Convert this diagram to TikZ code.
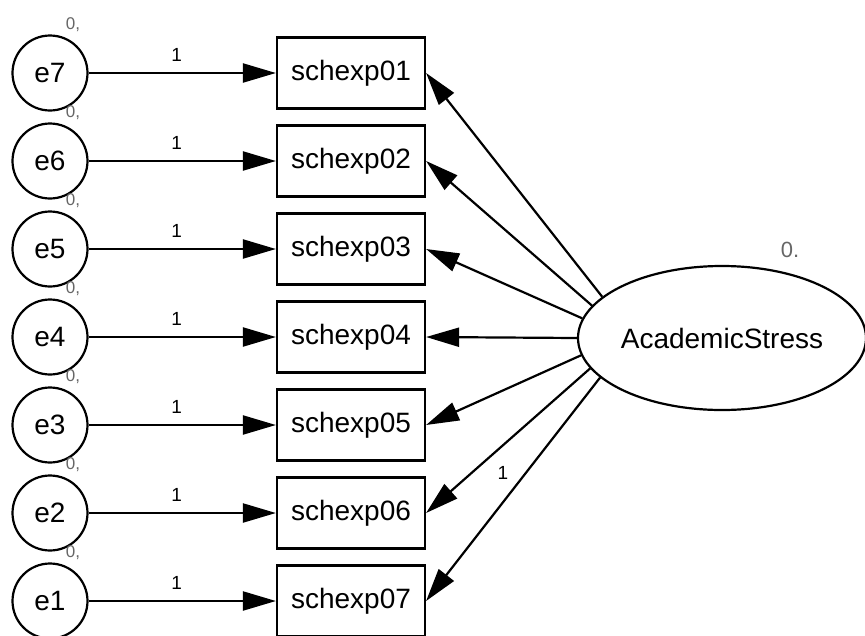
\documentclass[tikz,border=0pt]{standalone}
\usepackage{fontspec}
\setmainfont{Liberation Sans}
\usetikzlibrary{arrows.meta,shapes.geometric}
\begin{document}
\begin{tikzpicture}[x=1pt,y=-1pt,
  every node/.style={font=\fontsize{28}{30}\selectfont},
  err/.style={circle,draw,line width=2.2pt,minimum size=75pt,inner sep=0pt},
  obs/.style={rectangle,draw,line width=2.2pt,minimum width=148pt,minimum height=71pt,inner sep=0pt},
  lat/.style={ellipse,draw,line width=2.2pt,minimum width=288pt,minimum height=144pt,inner sep=0pt},
  regpath/.style={line width=2.2pt,-{Triangle[length=33pt,width=19pt]}},
  wlab/.style={font=\fontsize{19}{21}\selectfont,inner sep=0pt},
  vlab/.style={font=\fontsize{17}{18}\selectfont,text=black!60,inner sep=0pt}]
\clip (0,0) rectangle (865,635);
\node[lat] (AS) at (722,338) {AcademicStress};
\node[vlab,font=\fontsize{22}{24}\selectfont] (asv) at (790,250) {0.};
\foreach \i/\e/\a in {1/7/161,2/6/166.8,3/5/172.8,4/4/180,5/3/187.2,6/2/193.2,7/1/198.9} {
  \pgfmathsetmacro\yy{73+88*(\i-1)}
  \pgfmathsetmacro\vy{\yy-48}
  \node[err] (e\e) at (50,\yy) {e\e};
  \node[vlab] (v\e) at (73,\vy) {0,};
  \node[obs] (s\i) at (351,\yy) {schexp0\i};
  \draw[regpath] (e\e) -- node[wlab,pos=0.47,above=10pt] (w\e) {1} (s\i);
  \draw[regpath] (AS.\a) -- (s\i.east);
}
\node[wlab] (w06) at (503,473) {1};
\end{tikzpicture}
\end{document}
